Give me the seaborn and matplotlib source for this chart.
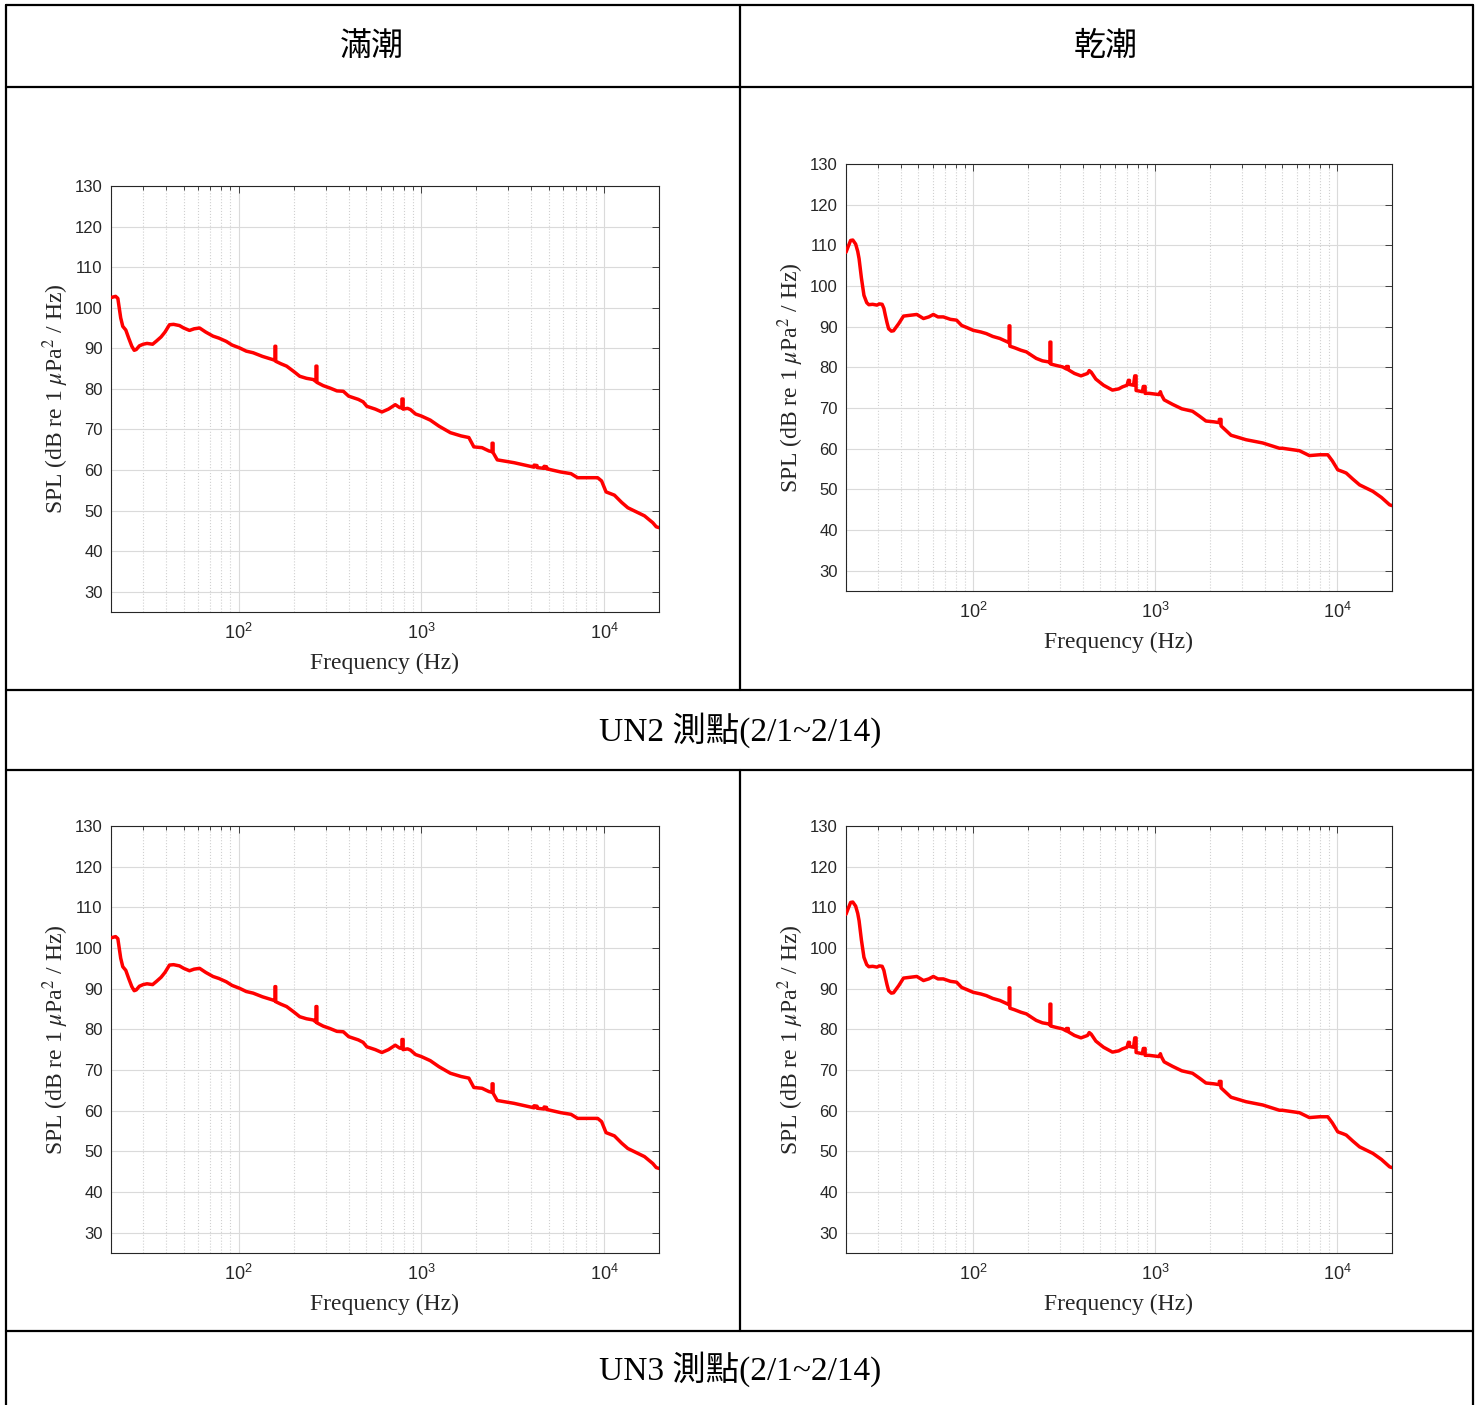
import numpy as np
import pandas as pd
import matplotlib
matplotlib.use("Agg")
import matplotlib.pyplot as plt
import seaborn as sns
from matplotlib.lines import Line2D
from matplotlib.ticker import LogLocator, FixedLocator, NullFormatter, LogFormatterSciNotation

# ---------------- data ----------------
col_titles = ["滿潮", "乾潮"]
row_captions = ["UN2 測點(2/1~2/14)", "UN3 測點(2/1~2/14)"]
x_label = "Frequency (Hz)"
y_label = r"SPL (dB re 1 $\mu$Pa$^2$ / Hz)"
y_ticks = [30, 40, 50, 60, 70, 80, 90, 100, 110, 120, 130]

high_freq = [20, 21.2, 21.8, 22.6, 23.2, 24.1, 25, 26, 26.8, 27.5, 28.6, 30, 31.5, 33.8, 35.5,
             37.6, 39.5, 41.8, 44, 47.4, 50, 53.8, 57, 61.1, 66, 72.3, 78, 85.5, 92, 101, 110,
             120, 135, 154, 158, 158, 159.5, 159.5, 170, 183, 200, 216, 235, 256, 265, 265, 268,
             268, 290, 316, 345, 374, 400, 452, 480, 503, 560, 608, 660, 720, 760, 783, 783,
             795, 795, 840, 871, 930, 1000, 1119, 1250, 1442, 1650, 1820, 1938, 2150, 2343,
             2440, 2440, 2470, 2470, 2604, 3217, 4140, 4140, 4300, 4300, 4700, 4700, 4850,
             4850, 5808, 6594, 7168, 9230, 9700, 10260, 11400, 12500, 13500, 16660, 18500,
             19320, 20000]
high_spl = [102.5, 102.8, 102.3, 97.5, 95.4, 94.5, 92.5, 90.5, 89.5, 89.7, 90.6, 91.0, 91.2,
            91.0, 91.8, 92.8, 94.0, 95.8, 95.9, 95.6, 95.0, 94.4, 94.8, 95.0, 94.0, 93.0, 92.5,
            91.7, 90.8, 90.1, 89.3, 88.9, 88.0, 87.2, 87.0, 90.5, 90.5, 86.8, 86.2, 85.6, 84.3,
            83.1, 82.6, 82.3, 81.8, 85.6, 85.6, 81.6, 80.8, 80.2, 79.5, 79.4, 78.2, 77.4, 76.8,
            75.7, 75.0, 74.3, 75.0, 76.1, 75.4, 75.3, 77.5, 77.5, 75.0, 75.2, 74.9, 73.8, 73.3,
            72.3, 70.8, 69.2, 68.4, 68.0, 65.7, 65.5, 64.7, 64.5, 66.6, 66.6, 64.3, 62.5, 61.8,
            60.7, 61.2, 61.1, 60.6, 60.4, 60.9, 60.8, 60.3, 59.5, 59.1, 58.1, 58.1, 57.3, 54.6,
            53.8, 52.0, 50.7, 48.7, 47.0, 46.0, 45.8]

low_freq = [20, 20.6, 21.2, 21.8, 22.6, 23.2, 23.6, 24.3, 25.1, 26.0, 26.7, 28, 29.6, 30.5,
            31.6, 32.3, 32.9, 33.6, 34.3, 35.5, 36.5, 38.9, 41.4, 45, 49, 53.3, 57, 60.4, 64,
            68.5, 75, 81, 86.4, 92, 100, 110, 118, 128, 140, 155, 157.5, 157.5, 159, 159, 169,
            183, 196, 210, 222, 240, 262, 264, 264, 267, 267, 290, 310, 325, 325, 333, 333,
            360, 391, 425, 434, 445, 472, 520, 582, 630, 661, 700, 712, 722, 722, 760, 772,
            785, 785, 810, 850, 860, 880, 880, 927, 1050, 1068, 1080, 1120, 1245, 1400, 1603,
            1750, 1900, 2100, 2250, 2250, 2300, 2300, 2610, 3157, 3898, 4812, 5000, 6198, 7033,
            8000, 8874, 9400, 10070, 10800, 11210, 12200, 13270, 15700, 17500, 19400, 20000]
low_spl = [108.3, 109.8, 111.2, 111.3, 110.3, 108.5, 106.7, 102.0, 97.7, 95.9, 95.4, 95.5,
           95.3, 95.6, 95.5, 94.5, 92.8, 91.0, 89.5, 88.9, 89.0, 90.7, 92.6, 92.8, 93.0, 92.0,
           92.4, 93.0, 92.4, 92.4, 91.8, 91.6, 90.3, 89.8, 89.1, 88.7, 88.3, 87.6, 87.1, 86.2,
           86.0, 90.2, 90.2, 85.2, 84.8, 84.2, 83.8, 82.9, 82.2, 81.6, 81.3, 81.0, 86.2, 86.2,
           80.8, 80.4, 80.1, 79.6, 80.2, 80.2, 79.4, 78.5, 77.9, 78.5, 79.2, 78.8, 77.1, 75.6,
           74.4, 74.7, 75.2, 75.6, 76.8, 76.8, 75.8, 75.6, 77.9, 77.9, 74.3, 74.2, 74.0, 75.3,
           75.3, 73.6, 73.6, 73.3, 74.0, 73.3, 72.0, 70.9, 69.8, 69.2, 68.0, 66.8, 66.6, 66.4,
           67.2, 67.2, 65.6, 63.3, 62.2, 61.4, 60.1, 60.1, 59.5, 58.3, 58.5, 58.5, 57.0, 54.8,
           54.3, 54.0, 52.5, 51.1, 49.5, 48.0, 46.2, 46.0]

# ---------------- style ----------------
sns.set_style("white")
plt.rcParams["font.family"] = ["Liberation Sans", "DejaVu Sans"]
plt.rcParams["mathtext.fontset"] = "stix"

W, H = 1479, 1405
fig = plt.figure(figsize=(W / 100, H / 100), dpi=100)
fig.patch.set_facecolor("white")


def box(l, t, r, b):
    return [l / W, 1 - b / H, (r - l) / W, (b - t) / H]


panels = [
    (box(111, 186, 659, 612), high_freq, high_spl),
    (box(846, 164, 1392, 591), low_freq, low_spl),
    (box(111, 826, 659, 1253), high_freq, high_spl),
    (box(846, 826, 1392, 1253), low_freq, low_spl),
]

axis_col = "#262626"
for rect, fq, spl in panels:
    ax = fig.add_axes(rect)
    ax.set_xscale("log")
    df = pd.DataFrame({"freq": fq, "spl": spl})
    sns.lineplot(data=df, x="freq", y="spl", ax=ax, estimator=None, sort=False,
                 color="#ff0000", linewidth=2.5, zorder=3)
    ax.set_xlim(20, 20000)
    ax.set_ylim(25, 130)
    ax.yaxis.set_major_locator(FixedLocator(y_ticks))
    ax.xaxis.set_major_locator(LogLocator(base=10))
    ax.xaxis.set_minor_locator(LogLocator(base=10, subs=np.arange(2, 10)))
    ax.xaxis.set_major_formatter(LogFormatterSciNotation())
    ax.xaxis.set_minor_formatter(NullFormatter())
    ax.grid(True, which="major", color="#dadada", linewidth=0.8, linestyle="-", zorder=0)
    ax.grid(True, which="minor", axis="x", color="#d0d0d0", linewidth=0.8, linestyle=":", zorder=0)
    ax.set_axisbelow(True)
    ax.tick_params(which="both", direction="in", top=True, right=True, color=axis_col,
                   labelcolor=axis_col, width=0.6)
    ax.tick_params(which="major", length=5, labelsize=12, pad=6)
    ax.tick_params(which="minor", length=3)
    ax.tick_params(axis="x", which="major", pad=8, labelsize=13)
    for sp in ax.spines.values():
        sp.set_color(axis_col)
        sp.set_linewidth(0.8)
    ax.set_xlabel(x_label, fontsize=17, fontfamily="Liberation Serif", color=axis_col, labelpad=7)
    ax.set_ylabel(y_label, fontsize=17, fontfamily="Liberation Serif", color=axis_col, labelpad=3)

# ---------------- table frame ----------------
def hline(y, x0=6, x1=1473):
    fig.add_artist(Line2D([x0 / W, x1 / W], [1 - y / H, 1 - y / H], color="black",
                          linewidth=1.6, transform=fig.transFigure))


def vline(x, y0, y1):
    fig.add_artist(Line2D([x / W, x / W], [1 - y0 / H, 1 - y1 / H], color="black",
                          linewidth=1.6, transform=fig.transFigure))


for y in [5, 87, 690, 770, 1331]:
    hline(y)
vline(6, 5, 1405)
vline(1473, 5, 1405)
vline(740, 5, 690)
vline(740, 770, 1331)

cjk = ["Noto Sans CJK TC", "DejaVu Sans"]
mixed = ["Liberation Serif", "Noto Sans CJK TC"]
fig.text(372 / W, 1 - 46 / H, col_titles[0], fontsize=23, family=cjk, ha="center", va="center",
         color="black")
fig.text(1106 / W, 1 - 46 / H, col_titles[1], fontsize=23, family=cjk, ha="center", va="center",
         color="black")
fig.text(740 / W, 1 - 730 / H, row_captions[0], fontsize=24, family=mixed, ha="center", va="center",
         color="black")
fig.text(740 / W, 1 - 1369 / H, row_captions[1], fontsize=24, family=mixed, ha="center", va="center",
         color="black")

fig.savefig("out.png", dpi=100, facecolor="white")
